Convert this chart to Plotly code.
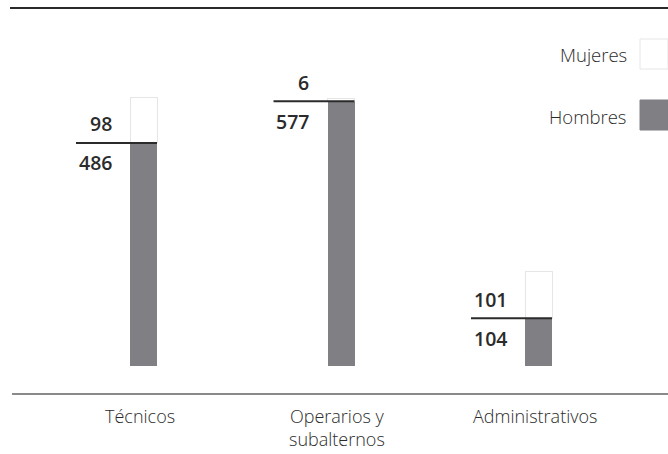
import plotly.graph_objects as go

categories = ["Técnicos", "Operarios y<br>subalternos", "Administrativos"]
hombres = [486, 577, 104]
mujeres = [98, 6, 101]
series_names = ["Mujeres", "Hombres"]

W, H = 668, 454
PLOT_BOTTOM = 366  # px
B = H - PLOT_BOTTOM
PX_PER_UNIT = 0.459
YMAX = PLOT_BOTTOM / PX_PER_UNIT
SPACING = 197.5
XMIN = -143.5 / SPACING
XMAX = XMIN + W / SPACING
BAR_W = 27 / SPACING

GREY = "#7f7f84"
TXT = "#2b2b2b"
FONT = "Open Sans"

def py(p):
    return (PLOT_BOTTOM - p) / PLOT_BOTTOM

def px(p):
    return p / W

xs = list(range(len(categories)))

fig = go.Figure()
fig.add_trace(go.Bar(x=xs, y=hombres, name=series_names[1], width=BAR_W,
                     marker=dict(color=GREY, line=dict(width=0))))
fig.add_trace(go.Bar(x=xs, y=mujeres, name=series_names[0], width=BAR_W,
                     marker=dict(color="white", line=dict(color="#e6e6e6", width=1))))

annotations = []
shapes = []
for i, (h, m) in enumerate(zip(hombres, mujeres)):
    shapes.append(dict(type="line", xref="x", yref="y",
                       x0=i - (13.5 + 54) / SPACING, x1=i + BAR_W / 2,
                       y0=h, y1=h, line=dict(color=TXT, width=2)))
    annotations.append(dict(x=i, y=h, xref="x", yref="y", text=str(m),
                            xanchor="right", yanchor="middle", showarrow=False,
                            xshift=-30, yshift=19,
                            font=dict(family=FONT, size=19.5, color=TXT, weight=600)))
    annotations.append(dict(x=i, y=h, xref="x", yref="y", text=str(h),
                            xanchor="right", yanchor="middle", showarrow=False,
                            xshift=-30, yshift=-20,
                            font=dict(family=FONT, size=19.5, color=TXT, weight=600)))
    annotations.append(dict(x=i, y=py(402), xref="x", yref="paper",
                            text=categories[i], xanchor="center", yanchor="top",
                            showarrow=False, xshift=-4,
                            font=dict(family=FONT, size=18, color=TXT, weight=300)))

shapes.append(dict(type="line", xref="paper", yref="paper", x0=px(10), x1=1,
                   y0=py(8), y1=py(8), line=dict(color="#2a2a2a", width=2)))
shapes.append(dict(type="line", xref="paper", yref="paper", x0=px(12), x1=1,
                   y0=py(394), y1=py(394), line=dict(color="#8a8a8a", width=2)))

legend_items = [(series_names[0], "white", 39, 69, 55), (series_names[1], GREY, 100, 130, 116)]
for name, col, y0, y1, yc in legend_items:
    shapes.append(dict(type="rect", xref="paper", yref="paper",
                       x0=px(640), x1=px(668), y0=py(y1), y1=py(y0),
                       fillcolor=col, line=dict(color="#e6e6e6" if col == "white" else col, width=1)))
    annotations.append(dict(x=px(629), y=py(yc), xref="paper", yref="paper", text=name,
                            xanchor="right", yanchor="middle", showarrow=False,
                            font=dict(family=FONT, size=18.5, color=TXT, weight=300)))

fig.update_layout(
    width=W, height=H, barmode="stack", showlegend=False,
    margin=dict(l=0, r=0, t=0, b=B),
    paper_bgcolor="white", plot_bgcolor="white",
    xaxis=dict(range=[XMIN, XMAX], visible=False, fixedrange=True),
    yaxis=dict(range=[0, YMAX], visible=False, fixedrange=True),
    shapes=shapes, annotations=annotations,
)
fig.write_html("out.html", config={"displayModeBar": False},
               post_script="document.body.style.margin='0';document.body.style.overflow='hidden';")
